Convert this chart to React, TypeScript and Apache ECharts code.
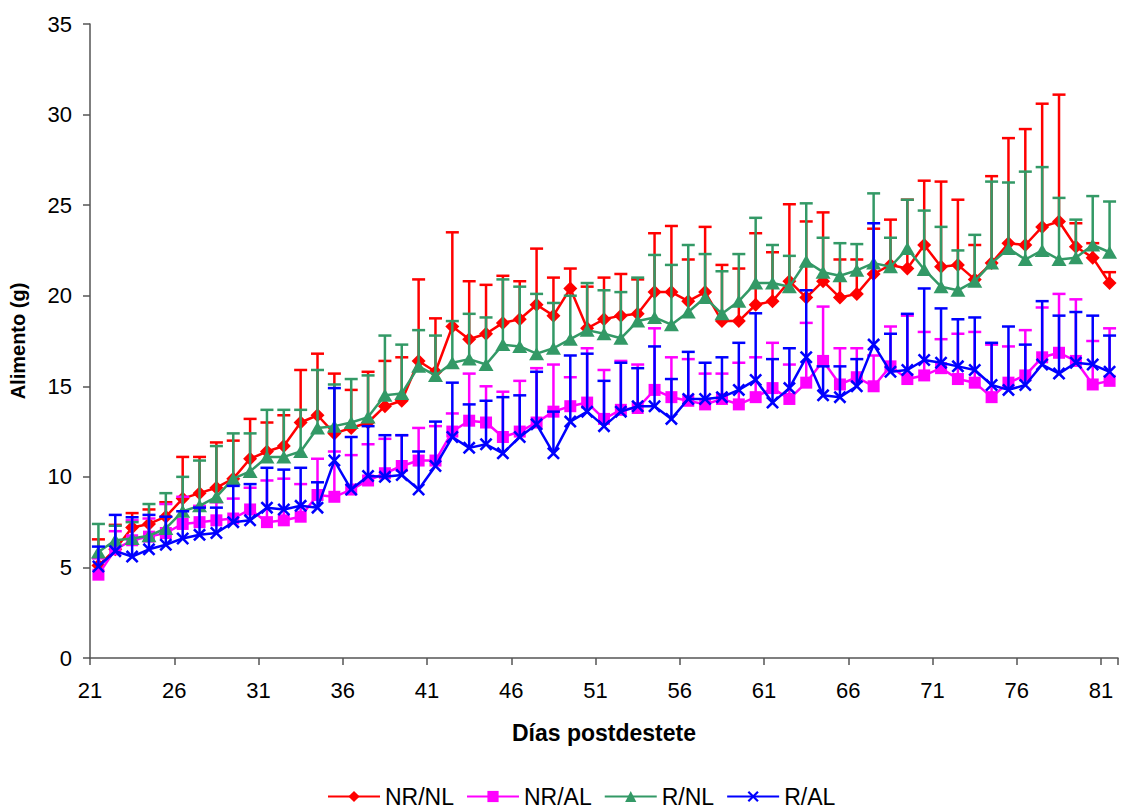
import React, { useEffect, useRef } from "react";
import * as echarts from "echarts";

const days = [
  "21", "22", "23", "24", "25", "26", "27", "28", "29", "30",
  "31", "32", "33", "34", "35", "36", "37", "38", "39", "40",
  "41", "42", "43", "44", "45", "46", "47", "48", "49", "50",
  "51", "52", "53", "54", "55", "56", "57", "58", "59", "60",
  "61", "62", "63", "64", "65", "66", "67", "68", "69", "70",
  "71", "72", "73", "74", "75", "76", "77", "78", "79", "80", "81",
];

// NR/NL (mean and upper end of error bar)
const nrnl = [
  5.1, 6.0, 7.2, 7.4, 7.8, 8.8, 9.1, 9.4, 9.9, 11.0,
  11.4, 11.7, 13.0, 13.4, 12.4, 12.7, 13.0, 13.9, 14.2, 16.4,
  15.8, 18.3, 17.6, 17.9, 18.5, 18.7, 19.5, 18.9, 20.4, 18.2,
  18.7, 18.9, 19.0, 20.2, 20.2, 19.7, 20.2, 18.6, 18.6, 19.5,
  19.7, 20.8, 19.9, 20.8, 19.9, 20.1, 21.2, 21.7, 21.5, 22.8,
  21.6, 21.7, 20.9, 21.8, 22.9, 22.8, 23.8, 24.1, 22.7, 22.1, 20.7,
];
const nrnlUp = [
  6.55, 7.35, 8.0, 8.2, 8.6, 11.1, 11.1, 11.9, 12.0, 13.2,
  13.0, 13.4, 15.9, 16.8, 15.7, 14.8, 15.8, 16.4, 16.6, 20.9,
  18.75, 23.5, 20.8, 20.6, 21.1, 20.8, 22.6, 21.0, 21.5, 20.5,
  21.0, 21.2, 20.9, 23.45, 23.85, 22.0, 23.8, 21.7, 21.5, 23.45,
  22.4, 25.05, 24.1, 24.6, 22.0, 22.0, 23.7, 24.2, 25.3, 26.35,
  26.3, 25.3, 22.8, 26.6, 28.7, 29.2, 30.6, 31.1, 24.0, 22.9, 21.3,
];

// NR/AL
const nral = [
  4.6, 6.0, 6.5, 6.7, 6.9, 7.4, 7.5, 7.6, 7.7, 8.2,
  7.5, 7.6, 7.8, 9.0, 8.9, 9.3, 9.8, 10.2, 10.6, 10.9,
  10.9, 12.5, 13.1, 13.0, 12.2, 12.5, 13.0, 13.6, 13.9, 14.1,
  13.2, 13.7, 13.8, 14.8, 14.4, 14.2, 14.0, 14.3, 14.0, 14.4,
  14.9, 14.3, 15.2, 16.4, 15.1, 15.5, 15.0, 16.1, 15.4, 15.6,
  16.0, 15.4, 15.2, 14.4, 15.2, 15.6, 16.6, 16.85, 16.4, 15.1, 15.3,
];
const nralUp = [
  5.5, 7.0, 7.6, 7.7, 8.5, 8.9, 8.4, 8.6, 8.8, 9.4,
  9.8, 9.9, 9.6, 11.0, 11.4, 11.2, 11.8, 12.1, 12.3, 12.7,
  12.8, 13.5, 15.7, 15.0, 14.7, 15.3, 16.0, 16.2, 15.5, 17.1,
  15.9, 16.4, 16.2, 18.2, 16.6, 16.5, 15.7, 15.7, 16.3, 16.6,
  17.4, 16.2, 18.5, 19.4, 17.1, 17.1, 16.7, 18.3, 18.9, 18.0,
  17.6, 17.9, 18.0, 17.3, 17.2, 18.1, 19.35, 20.1, 19.8, 17.5, 18.2,
];

// R/NL
const rnl = [
  5.85, 6.5, 6.6, 6.75, 7.15, 8.1, 8.4, 8.9, 9.9, 10.3,
  11.1, 11.1, 11.4, 12.7, 12.8, 13.0, 13.3, 14.5, 14.6, 16.1,
  15.6, 16.3, 16.5, 16.2, 17.3, 17.2, 16.8, 17.1, 17.6, 18.1,
  17.9, 17.65, 18.6, 18.8, 18.4, 19.1, 19.9, 19.0, 19.7, 20.7,
  20.7, 20.5, 21.9, 21.3, 21.1, 21.4, 21.8, 21.6, 22.6, 21.45,
  20.5, 20.3, 20.8, 21.8, 22.6, 22.0, 22.5, 22.0, 22.1, 22.8, 22.4,
];
const rnlUp = [
  7.4, 7.3, 7.5, 8.5, 9.1, 10.0, 10.9, 11.7, 12.4, 12.4,
  13.7, 13.7, 13.7, 15.9, 15.1, 15.4, 15.6, 17.8, 17.3, 18.1,
  17.8, 18.6, 19.0, 18.8, 20.9, 20.5, 20.1, 19.6, 20.0, 20.7,
  20.3, 20.2, 21.0, 22.25, 21.7, 22.8, 22.3, 21.35, 22.3, 24.3,
  22.8, 22.2, 25.1, 23.2, 22.9, 22.85, 25.65, 23.2, 25.3, 24.7,
  23.8, 22.5, 23.36, 26.3, 26.25, 26.85, 27.1, 25.4, 24.2, 25.5, 25.2,
];

// R/AL
const ral = [
  5.05, 5.9, 5.6, 6.0, 6.25, 6.6, 6.8, 6.9, 7.5, 7.6,
  8.3, 8.2, 8.4, 8.3, 10.9, 9.3, 10.05, 10.0, 10.1, 9.3,
  10.6, 12.2, 11.6, 11.8, 11.3, 12.2, 12.9, 11.3, 13.05, 13.6,
  12.8, 13.6, 13.9, 13.9, 13.2, 14.3, 14.3, 14.4, 14.8, 15.35,
  14.1, 14.9, 16.6, 14.5, 14.4, 15.0, 17.3, 15.8, 15.9, 16.45,
  16.3, 16.1, 15.9, 15.07, 14.8, 15.07, 16.2, 15.7, 16.3, 16.2, 15.8,
];
const ralUp = [
  6.15, 7.9, 7.77, 7.9, 7.8, 8.1, 8.3, 8.3, 9.5, 9.6,
  10.5, 10.4, 10.5, 9.7, 14.9, 12.2, 12.8, 12.3, 12.3, 11.4,
  13.05, 15.2, 14.0, 14.2, 14.4, 14.5, 15.8, 13.6, 16.7, 16.8,
  15.3, 16.3, 16.0, 17.2, 15.4, 16.9, 16.3, 16.6, 17.4, 19.03,
  16.5, 17.1, 20.3, 16.1, 16.1, 16.5, 24.0, 17.9, 19.0, 20.4,
  19.3, 18.7, 18.8, 17.4, 18.3, 17.3, 19.7, 18.9, 19.1, 18.9, 17.8,
];

const yTicks = { min: 0, max: 35, interval: 5 };

const FONT = "Arial, 'Liberation Sans', sans-serif";
const XSYM =
  "path://M0,1.4L1.4,0L5,3.6L8.6,0L10,1.4L6.4,5L10,8.6L8.6,10L5,6.4L1.4,10L0,8.6L3.6,5Z";

export default function App() {
  const ref = useRef<HTMLDivElement>(null);
  useEffect(() => {
    const chart = echarts.init(ref.current!, null, { renderer: "svg" });

    const mkErr = (name: string, mean: number[], up: number[], color: string, z: number) => ({
      type: "custom",
      name: name + "-err",
      data: mean.map((m, i) => [i, m, up[i]]),
      encode: { x: 0, y: [1, 2] },
      silent: true,
      z,
      renderItem: (_p: any, api: any) => {
        const a = api.coord([api.value(0), api.value(1)]);
        const b = api.coord([api.value(0), api.value(2)]);
        const st = { stroke: color, lineWidth: 2.5 };
        return {
          type: "group",
          children: [
            { type: "line", shape: { x1: a[0], y1: a[1], x2: b[0], y2: b[1] }, style: st },
            { type: "line", shape: { x1: b[0] - 6.5, y1: b[1], x2: b[0] + 6.5, y2: b[1] }, style: st },
          ],
        };
      },
    });

    const mkLine = (name: string, data: number[], color: string, symbol: string, size: any, z: number) => ({
      type: "line",
      name,
      data,
      symbol,
      symbolSize: size,
      showAllSymbol: true,
      z,
      lineStyle: { color, width: 2.5 },
      itemStyle: { color, borderWidth: 0 },
      emphasis: { disabled: true },
    });

    chart.setOption({
      animation: false,
      backgroundColor: "#ffffff",
      textStyle: { fontFamily: FONT, color: "#000" },
      grid: { left: 90, right: 10, top: 24, bottom: 152, containLabel: false },
      legend: {
        data: ["NR/NL", "NR/AL", "R/NL", "R/AL"],
        left: 327,
        top: 785,
        padding: 0,
        itemWidth: 52,
        itemHeight: 14,
        itemGap: 12,
        textStyle: { fontSize: 23, lineHeight: 23, fontFamily: FONT, color: "#000" },
      },
      xAxis: {
        type: "category",
        data: days,
        boundaryGap: true,
        name: "Días postdestete",
        nameLocation: "middle",
        nameGap: 63,
        nameTextStyle: { fontSize: 23, fontWeight: "bold", fontFamily: FONT, color: "#000" },
        axisLine: { lineStyle: { color: "#555", width: 1.5 } },
        axisTick: { show: true, interval: 4, length: 7, inside: false, lineStyle: { color: "#555", width: 1.5 } },
        axisLabel: {
          interval: 4,
          fontSize: 22,
          color: "#000",
          fontFamily: FONT,
          margin: 21,
          padding: [0, 17, 0, 0],
        },
        splitLine: { show: false },
      },
      yAxis: {
        type: "value",
        min: yTicks.min,
        max: yTicks.max,
        interval: yTicks.interval,
        name: "Alimento (g)",
        nameLocation: "middle",
        nameGap: 62,
        nameRotate: 90,
        nameTextStyle: { fontSize: 20, fontWeight: "bold", fontFamily: FONT, color: "#000" },
        axisLine: { show: true, lineStyle: { color: "#555", width: 1.5 } },
        axisTick: { show: true, length: 7, lineStyle: { color: "#555", width: 1.5 } },
        axisLabel: { fontSize: 22, color: "#000", fontFamily: FONT, margin: 18 },
        splitLine: { show: false },
      },
      series: [
        mkErr("NR/NL", nrnl, nrnlUp, "#FF0000", 2),
        mkLine("NR/NL", nrnl, "#FF0000", "diamond", 14, 3),
        mkErr("NR/AL", nral, nralUp, "#FF00FF", 4),
        mkLine("NR/AL", nral, "#FF00FF", "rect", 12, 5),
        mkErr("R/NL", rnl, rnlUp, "#339966", 6),
        mkLine("R/NL", rnl, "#339966", "triangle", [15, 13], 7),
        mkErr("R/AL", ral, ralUp, "#0000FF", 8),
        mkLine("R/AL", ral, "#0000FF", XSYM, 13, 9),
      ],
    });
    return () => chart.dispose();
  }, []);
  return (
    <div
      ref={ref}
      style={{ position: "fixed", left: 0, top: 0, width: 1128, height: 810, background: "#fff" }}
    />
  );
}
